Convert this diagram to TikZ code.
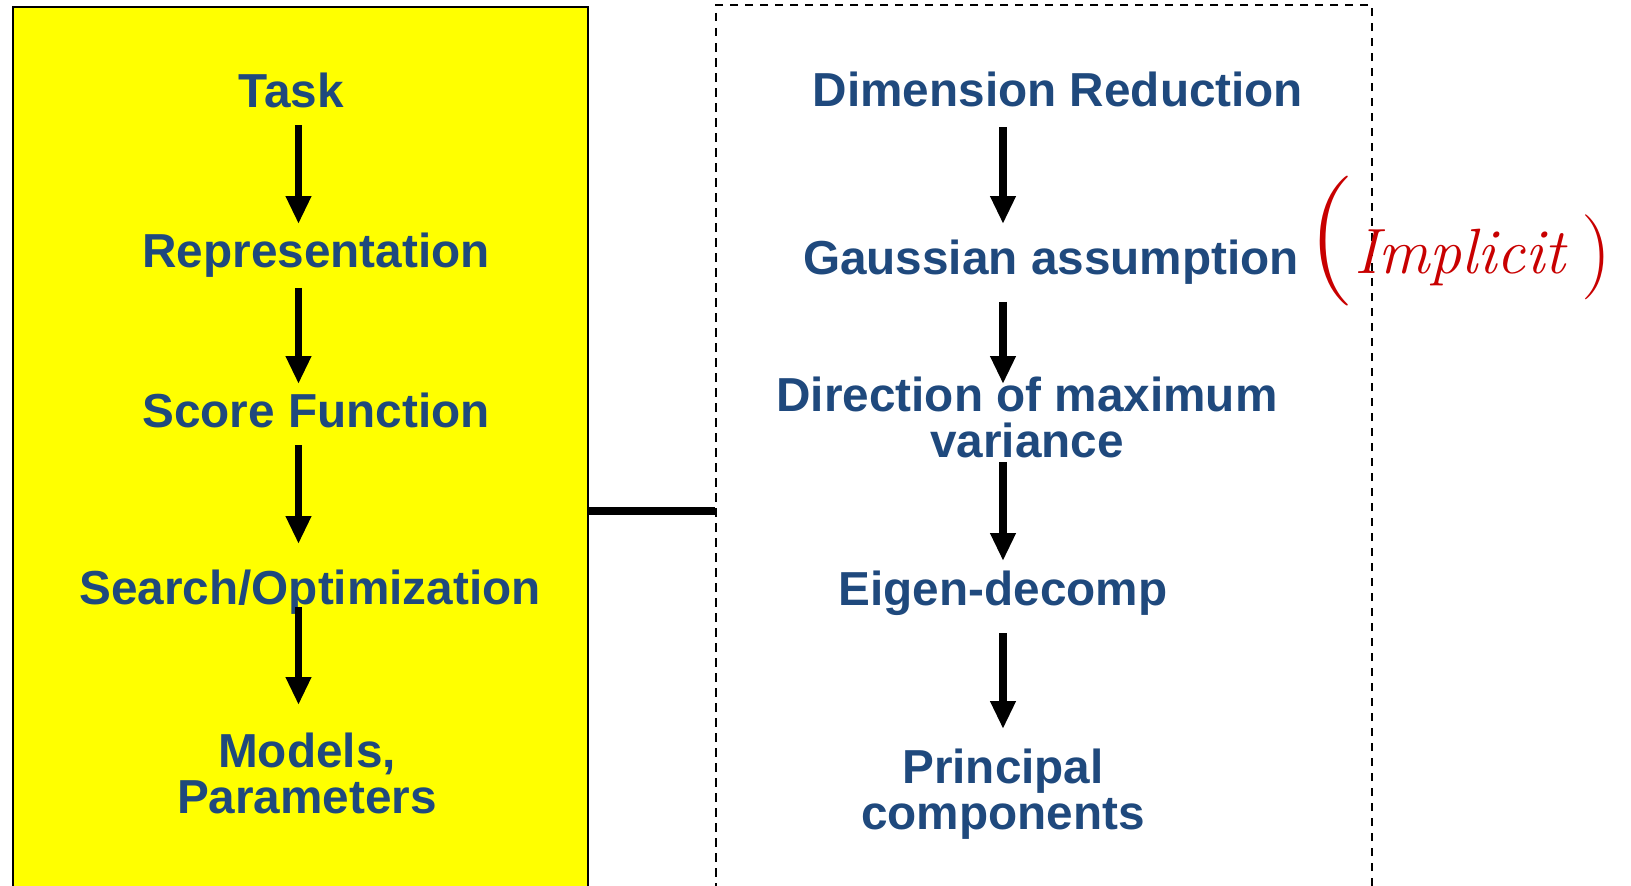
\documentclass[tikz,border=0pt]{standalone}
\usepackage{fontspec}
\usetikzlibrary{arrows.meta}
\newfontfamily\labelfont{Liberation Sans}
\definecolor{labelblue}{RGB}{31,73,125}
\definecolor{inkred}{RGB}{200,0,0}
\definecolor{panelyellow}{RGB}{255,255,0}

\begin{document}
\begin{tikzpicture}[x=1pt,y=-1pt,
  lbl/.style={font={\labelfont\bfseries\fontsize{47.7}{46}\selectfont},
    text=labelblue, align=center, inner sep=0pt, anchor=north},
  flow/.style={line width=7.5pt, -{Triangle[width=24pt,length=28pt]}},
  panel/.style={inner sep=0pt, anchor=north west, minimum height=900pt},
]
\useasboundingbox (0,0) rectangle (1631,886);

% the two panels run past the lower edge
\begin{scope}
  \clip (0,0) rectangle (1631,886);
  \node[panel, draw=black, line width=2pt, fill=panelyellow,
        minimum width=575.5pt] (general) at (11.5,6) {};
  \node[panel, draw=black, line width=2pt, dash pattern=on 8.5pt off 6.5pt,
        minimum width=656pt] (pca) at (715,4) {};
\end{scope}

% link between the panels
\coordinate (tie) at (0,511);
\draw[line width=7.5pt] (general.east |- tie) -- (pca.west |- tie);

% general pipeline
\coordinate (colL) at (298.5,0);
\node[lbl] (task)   at (291,73)  {Task};
\node[lbl] (rep)    at (316,233) {Representation};
\node[lbl] (score)  at (316,393) {Score Function};
\node[lbl] (search) at (310,570) {Search/Optimization};
\node[lbl] (models) at (307,733) {Models,\\Parameters};

\draw[flow, shorten <=17pt, shorten >=9pt]  (task.south -| colL)   -- (rep.north -| colL);
\draw[flow, shorten <=10pt, shorten >=9pt]  (rep.south -| colL)    -- (score.north -| colL);
\draw[flow, shorten <=17pt, shorten >=26pt] (score.south -| colL)  -- (search.north -| colL);
\draw[flow, shorten <=-8pt, shorten >=28pt] (search.south -| colL) -- (models.north -| colL);

% PCA pipeline
\coordinate (colR) at (1003,0);
\node[lbl] (dimred) at (1058,72)  {Dimension Reduction};
\node[lbl] (gauss)  at (1051,240) {Gaussian assumption};
\node[lbl] (dirvar) at (1027,377) {Direction of maximum\\variance};
\node[lbl] (eigen)  at (1003,571) {Eigen-decomp};
\node[lbl] (pcs)    at (1003,749) {Principal\\components};

\draw[flow, shorten <=20pt, shorten >=16pt] (dimred.south -| colR) -- (gauss.north -| colR);
\draw[flow, shorten <=17pt, shorten >=-7pt] (gauss.south -| colR)  -- (dirvar.north -| colR);
\draw[flow, shorten <=4pt,  shorten >=10pt] (dirvar.south -| colR) -- (eigen.north -| colR);
\draw[flow, shorten <=17pt, shorten >=20pt] (eigen.south -| colR)  -- (pcs.north -| colR);

% handwritten remark
\node[inner sep=0pt, text=inkred, anchor=base west] (implicit) at (1308,273)
  {{\upshape\fontsize{130}{130}\selectfont(}{\itshape\fontsize{64}{64}\selectfont Implicit}\hspace{16pt}\raisebox{-5pt}{\upshape\fontsize{85}{85}\selectfont)}};
\end{tikzpicture}
\end{document}
